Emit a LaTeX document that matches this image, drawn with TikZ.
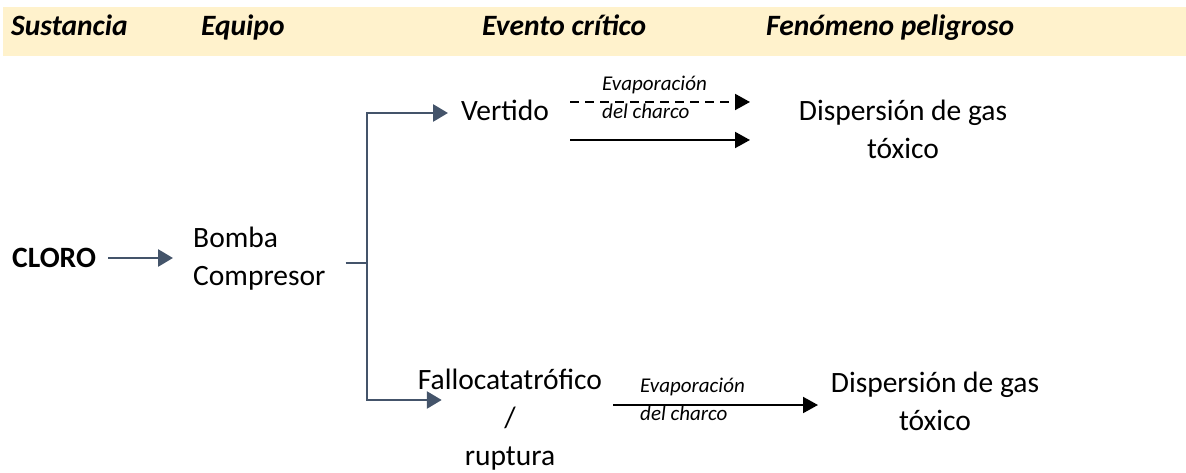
\documentclass[tikz,border=0pt]{standalone}
\usepackage{fontspec}
\setmainfont{Carlito}
\usetikzlibrary{arrows.meta}
\definecolor{hdrbg}{HTML}{FFF2CC}
\definecolor{slate}{HTML}{44546A}
\tikzset{
  hdr/.style={anchor=base west,inner sep=0pt,font=\fontsize{29.5}{34}\selectfont\bfseries\itshape},
  body/.style={inner sep=0pt,font=\fontsize{29.5}{38}\selectfont},
  lbl/.style={anchor=west,inner sep=0pt,align=left,font=\fontsize{21}{28}\selectfont\itshape},
  slatearrow/.style={draw=slate,line width=2.8pt,-{Triangle[length=15pt,width=17pt]}},
  blackarrow/.style={draw=black,line width=2pt,-{Triangle[length=15pt,width=16pt]}},
}
\begin{document}
\begin{tikzpicture}[x=1pt,y=-1pt]
\useasboundingbox (0,0) rectangle (1186,473);
\fill[hdrbg] (3,7) rectangle (1186,56);
\node[hdr] (h1) at (11,36) {Sustancia};
\node[hdr] (h2) at (201,36) {Equipo};
\node[hdr] (h3) at (482,36) {Evento crítico};
\node[hdr] (h4) at (766,36) {Fenómeno peligroso};

\node[body,anchor=west,font=\fontsize{29.5}{38}\selectfont\bfseries] (cloro) at (12,258) {CLORO};
\node[body,anchor=west,align=left] (equipo) at (193,259) {Bomba\\Compresor};
\node[body,anchor=west] (vertido) at (461,110) {Vertido};
\node[body,align=center] (falla) at (510,420) {Fallocatatrófico\\/\\ruptura};
\node[body,align=center] (disp1) at (903,129) {Dispersión de gas\\tóxico};
\node[body,align=center] (disp2) at (935,401) {Dispersión de gas\\tóxico};
\node[lbl] (evap1) at (602,97) {Evaporación\\del charco};
\node[lbl] (evap2) at (640,399) {Evaporación\\del charco};

\coordinate (junc) at (367,263);
\coordinate (top) at (367,113);
\coordinate (bot) at (367,400);
\coordinate (d1s) at (570,102);
\coordinate (d1e) at (750,102);
\coordinate (s1s) at (570,140);
\coordinate (s1e) at (750,140);
\coordinate (s2s) at (613,405);
\coordinate (s2e) at (818,405);

% CLORO -> equipo
\draw[slatearrow,shorten <=12pt,shorten >=20pt] (cloro.east) -- (cloro.east -| equipo.west);
% bracket
\draw[draw=slate,line width=2.8pt,shorten <=20pt] (equipo.east |- junc) -- (junc);
\draw[slatearrow,shorten >=13pt] (junc) -- (top) -- (top -| vertido.west);
\draw[slatearrow,shorten >=-24pt] (junc) -- (bot) -- (bot -| falla.west);
% black arrows
\draw[blackarrow,dash pattern=on 8.5pt off 6.5pt] (d1s) -- (d1e);
\draw[blackarrow] (s1s) -- (s1e);
\draw[blackarrow] (s2s) -- (s2e);
\end{tikzpicture}
\end{document}
